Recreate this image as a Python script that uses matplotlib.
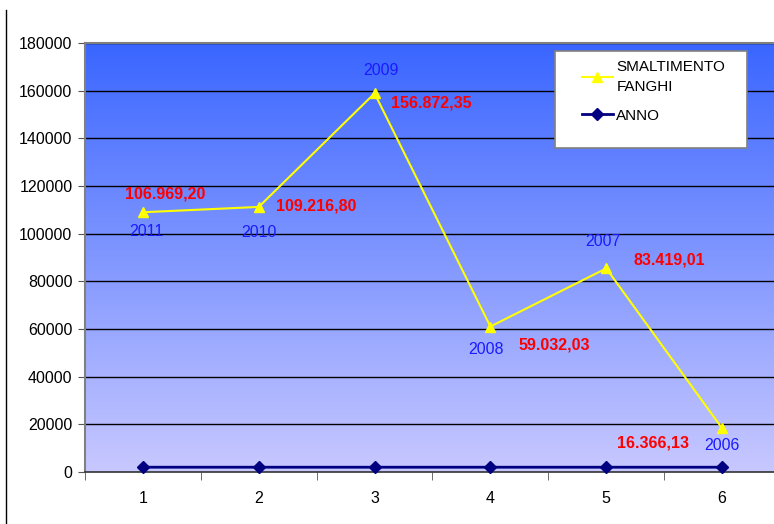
import matplotlib
matplotlib.use("Agg")
import matplotlib.pyplot as plt
import numpy as np
from matplotlib.colors import LinearSegmentedColormap
from matplotlib.lines import Line2D
from matplotlib.patches import Rectangle

plt.rcParams['font.family'] = ['Liberation Sans', 'DejaVu Sans']

categories = [1, 2, 3, 4, 5, 6]
anno = [2011, 2010, 2009, 2008, 2007, 2006]
fanghi = [106969.20, 109216.80, 156872.35, 59032.03, 83419.01, 16366.13]
fanghi_labels = ["106.969,20", "109.216,80", "156.872,35", "59.032,03", "83.419,01", "16.366,13"]
anno_labels = ["2011", "2010", "2009", "2008", "2007", "2006"]
yticks = [0, 20000, 40000, 60000, 80000, 100000, 120000, 140000, 160000, 180000]

# stacked line chart: second series sits on top of the first
stacked = [a + f for a, f in zip(anno, fanghi)]

W, H = 774, 524
fig = plt.figure(figsize=(W/100, H/100), dpi=100)
ax = fig.add_axes([85/W, 1-472/H, (780-85)/W, (472-43)/H])
ax.set_xlim(0.5, 6.5)
ax.set_ylim(0, 180000)

# gradient background
cmap = LinearSegmentedColormap.from_list("bg", ["#C8C8FF", "#3A66FF"])
grad = np.linspace(0, 1, 256).reshape(-1, 1)
ax.imshow(grad, extent=[0.5, 6.5, 0, 180000], origin='lower', aspect='auto', cmap=cmap, zorder=0)

ax.set_yticks(yticks)
ax.set_yticklabels([str(v) for v in yticks], fontsize=11.5)
for y in yticks[1:]:
    ax.axhline(y, color='black', lw=1, zorder=1)

ax.set_xticks(categories)
ax.set_xticklabels([str(c) for c in categories], fontsize=11.5)
ax.set_xticks([c + 0.5 for c in [0] + categories], minor=True)
ax.tick_params(axis='x', which='major', length=0, pad=14)
ax.tick_params(axis='x', which='minor', length=6, direction='out', color='#555555')
ax.tick_params(axis='y', length=5, direction='out', color='#555555', pad=4)

for s in ['left', 'top']:
    ax.spines[s].set_color('#808080')
    ax.spines[s].set_linewidth(1.5)
ax.spines['right'].set_visible(False)
ax.spines['bottom'].set_color('#333333')
ax.spines['bottom'].set_linewidth(1.2)

ax.plot(categories, stacked, color='#FFFF00', lw=1.5, marker='^', markersize=7,
        label='SMALTIMENTO\nFANGHI', zorder=3, clip_on=False)
ax.plot(categories, anno, color='#000080', lw=2, marker='D', markersize=6,
        label='ANNO', zorder=3, clip_on=False)

red_off = [(22, 18), (57, 1), (57, -10), (64, -18), (63, 8), (-69, -15)]
blue_off = [(3, -19), (0, -26), (6, 23), (-4, -23), (-3, 27), (0, -17)]
for x, y, lab, off in zip(categories, stacked, fanghi_labels, red_off):
    ax.annotate(lab, (x, y), xytext=off, textcoords='offset pixels', ha='center', va='center',
                color='#FF0000', fontsize=11.5, fontweight='bold', zorder=4)
for x, y, lab, off in zip(categories, stacked, anno_labels, blue_off):
    ax.annotate(lab, (x, y), xytext=off, textcoords='offset pixels', ha='center', va='center',
                color='#1A1AFF', fontsize=11.5, zorder=4)

# legend box
fig.add_artist(Rectangle((555/W, 1-148/H), (747-555)/W, (148-51)/H, transform=fig.transFigure,
                         facecolor='white', edgecolor='#808080', lw=1.2, zorder=5))
leg = fig.legend(loc='upper left', bbox_to_anchor=(582/W, 1-60/H), fontsize=11,
                 frameon=False, handlelength=2.0, borderpad=0, labelspacing=0.95,
                 handletextpad=0.25, borderaxespad=0)
leg.set_zorder(6)
for t in leg.get_texts():
    t.set_linespacing(1.55)

fig.add_artist(Line2D([6/W, 6/W], [0, 1-10/H], color='black', lw=1))

fig.savefig("out.png", dpi=100)
